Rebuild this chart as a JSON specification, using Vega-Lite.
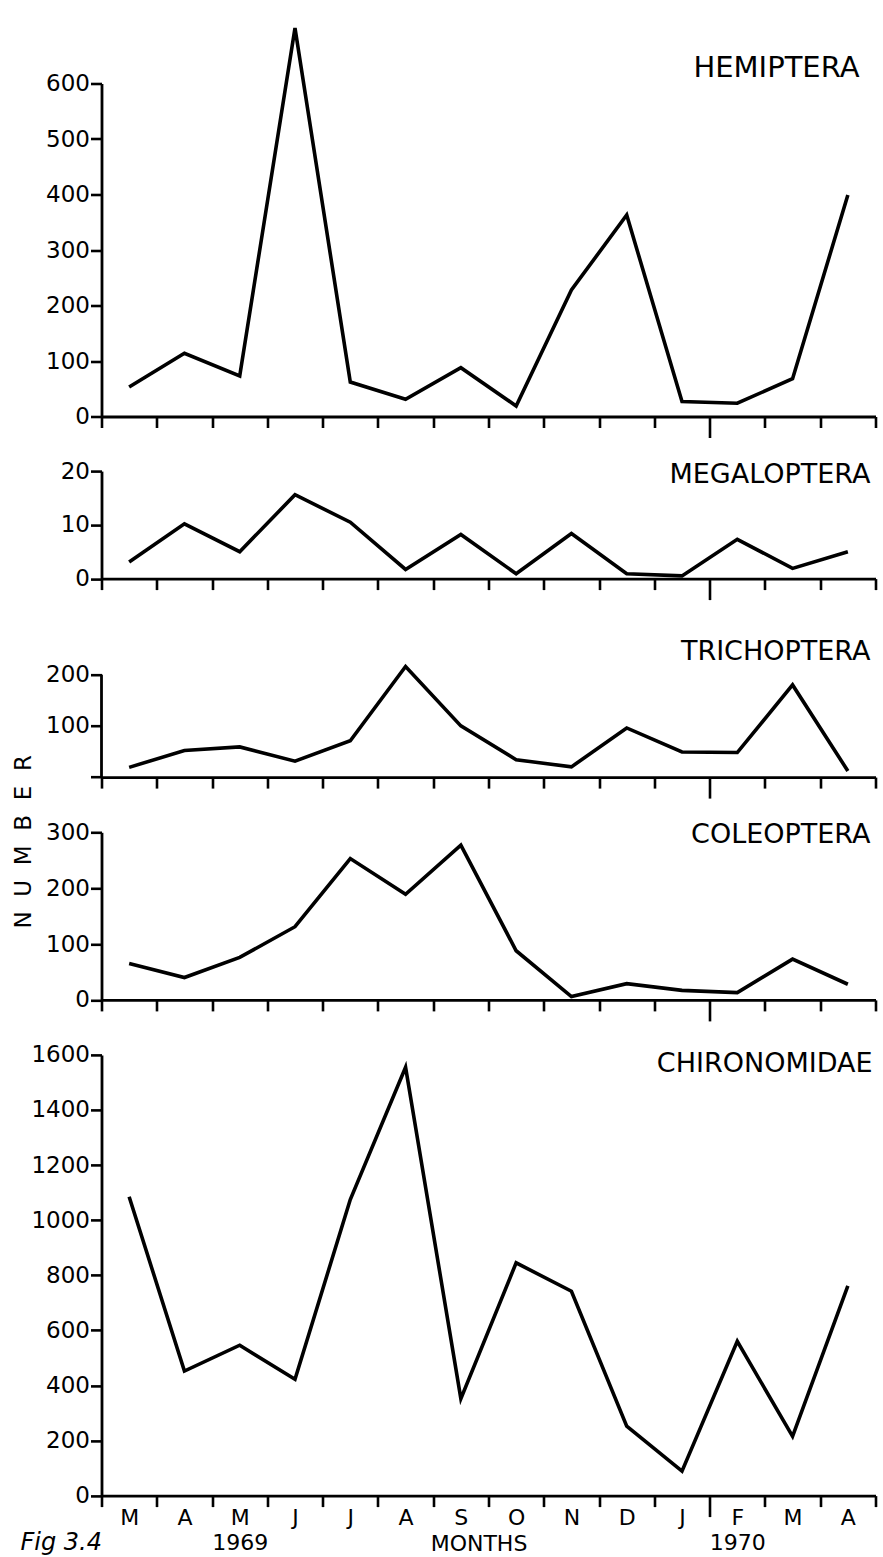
{
  "$schema": "https://vega.github.io/schema/vega-lite/v6.json",
  "background": "white",
  "padding": {"left": 11.5, "top": 20.5, "right": 0, "bottom": 0},
  "config": {
    "view": {"stroke": null},
    "font": "DejaVu Sans",
    "axis": {"domainColor": "black", "domainWidth": 2.8, "tickColor": "black", "tickWidth": 2.6, "labelColor": "black", "labelFont": "DejaVu Sans", "labelFontSize": 23, "titleFont": "DejaVu Sans", "titleColor": "black", "titleFontWeight": "normal", "grid": false, "labelPadding": 2, "tickSize": 11, "format": "d"},
    "axisY": {"labelPadding": 1},
    "text": {"font": "DejaVu Sans", "color": "black"}
  },
  "title": {"text": "Fig 3.4", "orient": "bottom", "anchor": "start", "fontStyle": "italic", "fontWeight": "normal", "fontSize": 24, "font": "DejaVu Sans", "color": "black", "offset": -24, "dx": 8},
  "datasets": {
    "counts": [
      {"taxon": "HEMIPTERA", "month": "1969-03", "n": 53},
      {"taxon": "HEMIPTERA", "month": "1969-04", "n": 114},
      {"taxon": "HEMIPTERA", "month": "1969-05", "n": 73},
      {"taxon": "HEMIPTERA", "month": "1969-06", "n": 700},
      {"taxon": "HEMIPTERA", "month": "1969-07", "n": 62},
      {"taxon": "HEMIPTERA", "month": "1969-08", "n": 31},
      {"taxon": "HEMIPTERA", "month": "1969-09", "n": 88},
      {"taxon": "HEMIPTERA", "month": "1969-10", "n": 19},
      {"taxon": "HEMIPTERA", "month": "1969-11", "n": 228},
      {"taxon": "HEMIPTERA", "month": "1969-12", "n": 363},
      {"taxon": "HEMIPTERA", "month": "1970-01", "n": 27},
      {"taxon": "HEMIPTERA", "month": "1970-02", "n": 24},
      {"taxon": "HEMIPTERA", "month": "1970-03", "n": 68},
      {"taxon": "HEMIPTERA", "month": "1970-04", "n": 399},
      {"taxon": "MEGALOPTERA", "month": "1969-03", "n": 3.1},
      {"taxon": "MEGALOPTERA", "month": "1969-04", "n": 10.2},
      {"taxon": "MEGALOPTERA", "month": "1969-05", "n": 5},
      {"taxon": "MEGALOPTERA", "month": "1969-06", "n": 15.6},
      {"taxon": "MEGALOPTERA", "month": "1969-07", "n": 10.5},
      {"taxon": "MEGALOPTERA", "month": "1969-08", "n": 1.7},
      {"taxon": "MEGALOPTERA", "month": "1969-09", "n": 8.2},
      {"taxon": "MEGALOPTERA", "month": "1969-10", "n": 0.9},
      {"taxon": "MEGALOPTERA", "month": "1969-11", "n": 8.4},
      {"taxon": "MEGALOPTERA", "month": "1969-12", "n": 0.9},
      {"taxon": "MEGALOPTERA", "month": "1970-01", "n": 0.5},
      {"taxon": "MEGALOPTERA", "month": "1970-02", "n": 7.3},
      {"taxon": "MEGALOPTERA", "month": "1970-03", "n": 1.9},
      {"taxon": "MEGALOPTERA", "month": "1970-04", "n": 5},
      {"taxon": "TRICHOPTERA", "month": "1969-03", "n": 19},
      {"taxon": "TRICHOPTERA", "month": "1969-04", "n": 52},
      {"taxon": "TRICHOPTERA", "month": "1969-05", "n": 59},
      {"taxon": "TRICHOPTERA", "month": "1969-06", "n": 31},
      {"taxon": "TRICHOPTERA", "month": "1969-07", "n": 71},
      {"taxon": "TRICHOPTERA", "month": "1969-08", "n": 216},
      {"taxon": "TRICHOPTERA", "month": "1969-09", "n": 100},
      {"taxon": "TRICHOPTERA", "month": "1969-10", "n": 34},
      {"taxon": "TRICHOPTERA", "month": "1969-11", "n": 20},
      {"taxon": "TRICHOPTERA", "month": "1969-12", "n": 96},
      {"taxon": "TRICHOPTERA", "month": "1970-01", "n": 49},
      {"taxon": "TRICHOPTERA", "month": "1970-02", "n": 48},
      {"taxon": "TRICHOPTERA", "month": "1970-03", "n": 180},
      {"taxon": "TRICHOPTERA", "month": "1970-04", "n": 12},
      {"taxon": "COLEOPTERA", "month": "1969-03", "n": 65},
      {"taxon": "COLEOPTERA", "month": "1969-04", "n": 40},
      {"taxon": "COLEOPTERA", "month": "1969-05", "n": 76},
      {"taxon": "COLEOPTERA", "month": "1969-06", "n": 131},
      {"taxon": "COLEOPTERA", "month": "1969-07", "n": 253},
      {"taxon": "COLEOPTERA", "month": "1969-08", "n": 189},
      {"taxon": "COLEOPTERA", "month": "1969-09", "n": 277},
      {"taxon": "COLEOPTERA", "month": "1969-10", "n": 88},
      {"taxon": "COLEOPTERA", "month": "1969-11", "n": 6},
      {"taxon": "COLEOPTERA", "month": "1969-12", "n": 29},
      {"taxon": "COLEOPTERA", "month": "1970-01", "n": 17},
      {"taxon": "COLEOPTERA", "month": "1970-02", "n": 13},
      {"taxon": "COLEOPTERA", "month": "1970-03", "n": 73},
      {"taxon": "COLEOPTERA", "month": "1970-04", "n": 28},
      {"taxon": "CHIRONOMIDAE", "month": "1969-03", "n": 1085},
      {"taxon": "CHIRONOMIDAE", "month": "1969-04", "n": 452},
      {"taxon": "CHIRONOMIDAE", "month": "1969-05", "n": 546},
      {"taxon": "CHIRONOMIDAE", "month": "1969-06", "n": 422},
      {"taxon": "CHIRONOMIDAE", "month": "1969-07", "n": 1075},
      {"taxon": "CHIRONOMIDAE", "month": "1969-08", "n": 1555},
      {"taxon": "CHIRONOMIDAE", "month": "1969-09", "n": 352},
      {"taxon": "CHIRONOMIDAE", "month": "1969-10", "n": 845},
      {"taxon": "CHIRONOMIDAE", "month": "1969-11", "n": 742},
      {"taxon": "CHIRONOMIDAE", "month": "1969-12", "n": 252},
      {"taxon": "CHIRONOMIDAE", "month": "1970-01", "n": 89},
      {"taxon": "CHIRONOMIDAE", "month": "1970-02", "n": 560},
      {"taxon": "CHIRONOMIDAE", "month": "1970-03", "n": 215},
      {"taxon": "CHIRONOMIDAE", "month": "1970-04", "n": 761}
    ]
  },
  "spacing": 54.6,
  "bounds": "flush",
  "vconcat": [
    {
      "width": 774, "height": 333,
      "layer": [
        {
          "data": {"name": "counts"},
          "transform": [{"filter": "datum.taxon == 'HEMIPTERA'"}],
          "mark": {"type": "line", "color": "black", "strokeWidth": 3.6, "clip": false},
          "encoding": {
            "x": {"field": "month", "type": "ordinal", "bandPosition": 0.5, "scale": {"type": "band", "paddingInner": 0, "paddingOuter": 0},
                  "axis": {"title": null, "labels": false, "tickBand": "extent", "tickSize": {"condition": {"test": "datum.value == '1970-01'", "value": 21}, "value": 11}}},
            "y": {"field": "n", "type": "quantitative", "scale": {"domain": [0, 600]}, "axis": {"title": null, "values": [0, 100, 200, 300, 400, 500, 600]}}
          }
        },
        {
          "data": {"values": [{"label": "HEMIPTERA"}]},
          "mark": {"type": "text", "align": "right", "baseline": "middle", "fontSize": 29, "dx": -16},
          "encoding": {
            "text": {"field": "label"},
            "x": {"datum": "1970-04", "type": "ordinal", "bandPosition": 1},
            "y": {"datum": 628, "type": "quantitative"}
          }
        }
      ]
    },
    {
      "width": 774, "height": 107.5,
      "layer": [
        {
          "data": {"name": "counts"},
          "transform": [{"filter": "datum.taxon == 'MEGALOPTERA'"}],
          "mark": {"type": "line", "color": "black", "strokeWidth": 3.6, "clip": false},
          "encoding": {
            "x": {"field": "month", "type": "ordinal", "bandPosition": 0.5, "scale": {"type": "band", "paddingInner": 0, "paddingOuter": 0},
                  "axis": {"title": null, "labels": false, "tickBand": "extent", "tickSize": {"condition": {"test": "datum.value == '1970-01'", "value": 21}, "value": 11}}},
            "y": {"field": "n", "type": "quantitative", "scale": {"domain": [0, 20]}, "axis": {"title": null, "values": [0, 10, 20]}}
          }
        },
        {
          "data": {"values": [{"label": "MEGALOPTERA"}]},
          "mark": {"type": "text", "align": "right", "baseline": "middle", "fontSize": 27, "dx": -5},
          "encoding": {
            "text": {"field": "label"},
            "x": {"datum": "1970-04", "type": "ordinal", "bandPosition": 1},
            "y": {"datum": 19.3, "type": "quantitative"}
          }
        }
      ]
    },
    {
      "width": 774, "height": 143.4,
      "layer": [
        {
          "data": {"name": "counts"},
          "transform": [{"filter": "datum.taxon == 'TRICHOPTERA'"}],
          "mark": {"type": "line", "color": "black", "strokeWidth": 3.6, "clip": false},
          "encoding": {
            "x": {"field": "month", "type": "ordinal", "bandPosition": 0.5, "scale": {"type": "band", "paddingInner": 0, "paddingOuter": 0},
                  "axis": {"title": null, "labels": false, "tickBand": "extent", "tickSize": {"condition": {"test": "datum.value == '1970-01'", "value": 21}, "value": 11}}},
            "y": {"field": "n", "type": "quantitative", "scale": {"domain": [0, 265.6]}, "axis": {"title": null, "domain": false, "values": [0, 100, 200], "labelExpr": "datum.value == 0 ? '' : datum.label"}}
          }
        },
        {
          "data": {"values": [{"label": "TRICHOPTERA"}]},
          "mark": {"type": "rule", "color": "black", "strokeWidth": 2.8},
          "encoding": {
            "x": {"datum": "1969-03", "type": "ordinal", "bandPosition": 0},
            "y": {"datum": 0, "type": "quantitative"},
            "y2": {"datum": 200}
          }
        },
        {
          "data": {"values": [{"label": "TRICHOPTERA"}]},
          "mark": {"type": "text", "align": "right", "baseline": "middle", "fontSize": 27, "dx": -5},
          "encoding": {
            "text": {"field": "label"},
            "x": {"datum": "1970-04", "type": "ordinal", "bandPosition": 1},
            "y": {"datum": 245, "type": "quantitative"}
          }
        }
      ]
    },
    {
      "width": 774, "height": 167.6,
      "layer": [
        {
          "data": {"name": "counts"},
          "transform": [{"filter": "datum.taxon == 'COLEOPTERA'"}],
          "mark": {"type": "line", "color": "black", "strokeWidth": 3.6, "clip": false},
          "encoding": {
            "x": {"field": "month", "type": "ordinal", "bandPosition": 0.5, "scale": {"type": "band", "paddingInner": 0, "paddingOuter": 0},
                  "axis": {"title": null, "labels": false, "tickBand": "extent", "tickSize": {"condition": {"test": "datum.value == '1970-01'", "value": 21}, "value": 11}}},
            "y": {"field": "n", "type": "quantitative", "scale": {"domain": [0, 300]},
                  "axis": {"values": [0, 100, 200, 300], "title": "N\u2007U\u2007M\u2007B\u2007E\u2007R", "titleX": -78, "titleY": 9, "titleAngle": 270, "titleAlign": "center", "titleBaseline": "middle", "titleFontSize": 23, "titleFontWeight": "normal"}}
          }
        },
        {
          "data": {"values": [{"label": "COLEOPTERA"}]},
          "mark": {"type": "text", "align": "right", "baseline": "middle", "fontSize": 27, "dx": -5},
          "encoding": {
            "text": {"field": "label"},
            "x": {"datum": "1970-04", "type": "ordinal", "bandPosition": 1},
            "y": {"datum": 296, "type": "quantitative"}
          }
        }
      ]
    },
    {
      "width": 774, "height": 440.7,
      "layer": [
        {
          "data": {"name": "counts"},
          "transform": [{"filter": "datum.taxon == 'CHIRONOMIDAE'"}],
          "mark": {"type": "line", "color": "black", "strokeWidth": 3.6, "clip": false},
          "encoding": {
            "x": {"field": "month", "type": "ordinal", "bandPosition": 0.5, "scale": {"type": "band", "paddingInner": 0, "paddingOuter": 0},
                  "axis": {"title": "MONTHS", "titleX": 377, "titleY": 48, "titleAlign": "center", "titleBaseline": "middle", "titleFontSize": 22, "titleFontWeight": "normal",
                           "tickBand": "extent", "tickSize": {"condition": {"test": "datum.value == '1970-01'", "value": 21}, "value": 11},
                           "labelAngle": 0, "labelAlign": "center", "labelBaseline": "top", "labelFontSize": 22, "labelLineHeight": 25,
                           "labelPadding": {"condition": {"test": "datum.value == '1970-01'", "value": -9}, "value": 1},
                           "labelExpr": "datum.value == '1969-05' || datum.value == '1970-02' ? [substring('JFMAMJJASOND', toNumber(substring(datum.value, 5, 7)) - 1, toNumber(substring(datum.value, 5, 7))), substring(datum.value, 0, 4)] : substring('JFMAMJJASOND', toNumber(substring(datum.value, 5, 7)) - 1, toNumber(substring(datum.value, 5, 7)))"}},
            "y": {"field": "n", "type": "quantitative", "scale": {"domain": [0, 1600]}, "axis": {"title": null, "values": [0, 200, 400, 600, 800, 1000, 1200, 1400, 1600]}}
          }
        },
        {
          "data": {"values": [{"label": "CHIRONOMIDAE"}]},
          "mark": {"type": "text", "align": "right", "baseline": "middle", "fontSize": 27, "dx": -3},
          "encoding": {
            "text": {"field": "label"},
            "x": {"datum": "1970-04", "type": "ordinal", "bandPosition": 1},
            "y": {"datum": 1568, "type": "quantitative"}
          }
        }
      ]
    }
  ]
}
